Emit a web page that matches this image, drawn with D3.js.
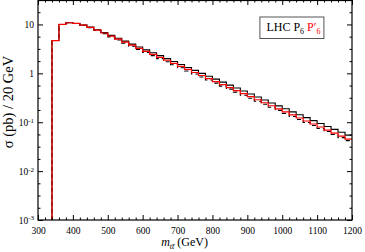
<!DOCTYPE html>
<html>
<head>
<meta charset="utf-8">
<script src="https://cdnjs.cloudflare.com/ajax/libs/d3/7.8.5/d3.min.js"></script>
<style>
  body { margin: 0; background: #fff; }
  text { font-family: "Liberation Serif", "Times New Roman", serif; }
</style>
</head>
<body>
<div id="chart"></div>
<script>
// histogram bins: 20 GeV wide, starting at 340 GeV
var binStart = 340;
var binWidth = 20;

// sigma (pb) per bin, P6' (red)
var sigmaP6prime = [4.68, 10.0, 10.84, 10.47, 9.66, 8.71, 7.67, 6.68, 5.78, 5.01,
  4.34, 3.76, 3.25, 2.82, 2.45, 2.13, 1.85, 1.60, 1.39, 1.20,
  1.04, 0.904, 0.783, 0.679, 0.589, 0.511, 0.443, 0.384, 0.333, 0.288,
  0.250, 0.217, 0.188, 0.163, 0.141, 0.122, 0.106, 0.092, 0.0798, 0.0692,
  0.060, 0.052, 0.045];

// sigma (pb) per bin, P6 (black solid)
var sigmaP6 = [4.68, 10.0, 10.84, 10.47, 9.70, 8.80, 7.80, 6.85, 5.98, 5.22,
  4.55, 3.96, 3.45, 3.02, 2.64, 2.30, 2.00, 1.74, 1.52, 1.32,
  1.15, 1.00, 0.870, 0.760, 0.660, 0.575, 0.500, 0.435, 0.378, 0.328,
  0.285, 0.248, 0.216, 0.188, 0.163, 0.142, 0.124, 0.108, 0.094, 0.082,
  0.0715, 0.0625, 0.0545];

// black dashed
var sigmaDashed = [4.68, 10.0, 10.84, 10.47, 9.60, 8.60, 7.52, 6.50, 5.58, 4.80,
  4.14, 3.57, 3.08, 2.66, 2.30, 2.00, 1.73, 1.50, 1.30, 1.12,
  0.970, 0.842, 0.730, 0.632, 0.548, 0.475, 0.412, 0.357, 0.310, 0.268,
  0.233, 0.202, 0.175, 0.152, 0.131, 0.114, 0.0988, 0.0857, 0.0743, 0.0644,
  0.0559, 0.0484, 0.0420];

var xMajorTicks = [300, 400, 500, 600, 700, 800, 900, 1000, 1100, 1200];
var yMajorTicks = [1e-3, 1e-2, 1e-1, 1, 10];
var yTickBase = ["10", "10", "10", "1", "10"];
var yTickExp = ["-3", "-2", "-1", "", ""];

var svgWidth = 365, svgHeight = 252;
var margin = { top: 0, right: 13, bottom: 32, left: 38 };
var width = svgWidth - margin.left - margin.right;
var height = svgHeight - margin.top - margin.bottom;

var svg = d3.select("#chart").append("svg")
  .attr("width", svgWidth)
  .attr("height", svgHeight);

var chartGroup = svg.append("g")
  .attr("transform", `translate(${margin.left}, ${margin.top})`);

var x = d3.scaleLinear().domain([300, 1200]).range([0, width]);
var y = d3.scaleLog().domain([1e-3, Math.pow(10, 1.5)]).range([height, 0]);

// minor ticks
var xMinorTicks = d3.range(300, 1201, 20).filter(d => d % 100 !== 0);
var yMinorTicks = [];
for (var k = -3; k <= 1; k++) {
  [0.25, 0.5, 0.75].forEach(f => {
    var v = Math.pow(10, k + f);
    if (v <= Math.pow(10, 1.5)) yMinorTicks.push(v);
  });
}

chartGroup.append("clipPath").attr("id", "plotClip")
  .append("rect").attr("width", width).attr("height", height);

// histograms
function histPoints(vals) {
  var pts = [[binStart, 1e-3]];
  vals.forEach((v, i) => pts.push([binStart + i * binWidth, v]));
  pts.push([binStart + vals.length * binWidth, vals[vals.length - 1]]);
  return pts;
}
var histLine = d3.line()
  .x(d => x(d[0]))
  .y(d => y(d[1]))
  .curve(d3.curveStepAfter);

var plot = chartGroup.append("g").attr("clip-path", "url(#plotClip)");

plot.append("path")
  .attr("d", histLine(histPoints(sigmaP6)))
  .attr("fill", "none")
  .attr("stroke", "#000")
  .attr("stroke-width", 1.1);

plot.append("path")
  .attr("d", histLine(histPoints(sigmaDashed)))
  .attr("fill", "none")
  .attr("stroke", "#000")
  .attr("stroke-width", 1.1)
  .attr("stroke-dasharray", "4,3");

plot.append("path")
  .attr("d", histLine(histPoints(sigmaP6prime)))
  .attr("fill", "none")
  .attr("stroke", "#ff0000")
  .attr("stroke-width", 1.2);

// axes with inward ticks
function styleAxis(g) {
  g.select(".domain").remove();
  g.selectAll("line").attr("stroke", "#000");
}

chartGroup.append("g")
  .attr("transform", `translate(0, ${height})`)
  .call(d3.axisBottom(x).tickValues(xMajorTicks).tickSize(-5).tickSizeOuter(0)
    .tickPadding(7).tickFormat(d3.format("d")))
  .call(styleAxis)
  .selectAll("text")
  .attr("font-size", "9.5px")
  .attr("fill", "#000");

chartGroup.append("g")
  .attr("transform", `translate(0, ${height})`)
  .call(d3.axisBottom(x).tickValues(xMinorTicks).tickSize(-2.5).tickFormat(""))
  .call(styleAxis);

chartGroup.append("g")
  .call(d3.axisTop(x).tickValues(xMajorTicks).tickSize(-5).tickFormat(""))
  .call(styleAxis);
chartGroup.append("g")
  .call(d3.axisTop(x).tickValues(xMinorTicks).tickSize(-2.5).tickFormat(""))
  .call(styleAxis);

var leftAxis = chartGroup.append("g")
  .call(d3.axisLeft(y).tickValues(yMajorTicks).tickSize(-5).tickPadding(4).tickFormat(""))
  .call(styleAxis);
leftAxis.selectAll(".tick text").each(function (d, i) {
  var t = d3.select(this).attr("font-size", "9.5px").attr("fill", "#000");
  t.append("tspan").text(yTickBase[i]);
  if (yTickExp[i]) {
    t.append("tspan").attr("dy", "-0.45em").attr("font-size", "7px").text(yTickExp[i]);
  }
});
chartGroup.append("g")
  .call(d3.axisLeft(y).tickValues(yMinorTicks).tickSize(-2.5).tickFormat(""))
  .call(styleAxis);

chartGroup.append("g")
  .attr("transform", `translate(${width}, 0)`)
  .call(d3.axisRight(y).tickValues(yMajorTicks).tickSize(-5).tickFormat(""))
  .call(styleAxis);
chartGroup.append("g")
  .attr("transform", `translate(${width}, 0)`)
  .call(d3.axisRight(y).tickValues(yMinorTicks).tickSize(-2.5).tickFormat(""))
  .call(styleAxis);

// frame
chartGroup.append("rect")
  .attr("x", 0).attr("y", 0.5)
  .attr("width", width).attr("height", height - 0.5)
  .attr("fill", "none")
  .attr("stroke", "#000")
  .attr("stroke-width", 1.2);

// legend
var legend = chartGroup.append("g")
  .attr("transform", `translate(${x(936)}, 17)`);
legend.append("rect")
  .attr("width", 64).attr("height", 21.5)
  .attr("fill", "#fff")
  .attr("stroke", "#555")
  .attr("stroke-width", 1);
var legText = legend.append("text")
  .attr("x", 6.5).attr("y", 14)
  .attr("font-size", "12px");
legText.append("tspan").attr("fill", "#000").text("LHC P");
legText.append("tspan").attr("fill", "#000").attr("font-size", "8px").attr("dy", 3).text("6");
legText.append("tspan").attr("fill", "#ff0000").attr("dy", -3).text(" P′");
legText.append("tspan").attr("fill", "#ff0000").attr("font-size", "8px").attr("dy", 3).text("6");

// axis titles
var xTitle = chartGroup.append("text")
  .attr("x", x(720))
  .attr("y", height + 26)
  .attr("text-anchor", "middle")
  .attr("font-size", "12px");
xTitle.append("tspan").attr("font-style", "italic").text("m");
xTitle.append("tspan").attr("font-style", "italic").attr("font-size", "8px").attr("dy", 3).text("tt\u0304");
xTitle.append("tspan").attr("dy", -3).text("  (GeV)");

chartGroup.append("text")
  .attr("transform", "rotate(-90)")
  .attr("x", -102)
  .attr("y", -margin.left + 13)
  .attr("text-anchor", "middle")
  .attr("font-size", "14.5px")
  .text("σ (pb) / 20 GeV");
</script>
</body>
</html>
